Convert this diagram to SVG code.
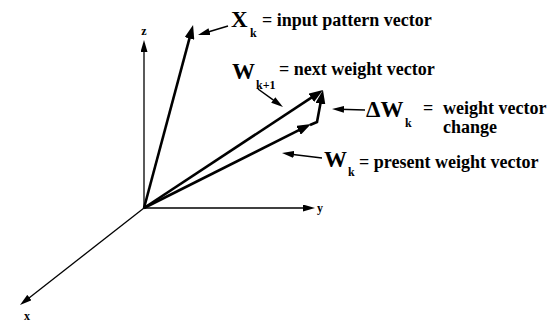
<svg xmlns="http://www.w3.org/2000/svg" width="552" height="326" viewBox="0 0 552 326">
<style>
.ax{stroke:#000;stroke-width:1.3;fill:none;marker-end:url(#thin)}
.vec{stroke:#000;stroke-width:2.6;fill:none;stroke-linejoin:miter;marker-end:url(#big)}
.ptr{stroke:#000;stroke-width:1.5;fill:none;marker-end:url(#thin)}
text{font-family:"Liberation Serif","Times New Roman",serif;font-weight:bold;fill:#000}
.axl{font-size:12px}
.big{font-size:23px}
.sub{font-size:12px}
.lab{font-size:18px}
</style>
<defs>
<marker id="big" markerUnits="userSpaceOnUse" markerWidth="14" markerHeight="10" refX="6" refY="5" orient="auto"><path d="M0,0 L14,5 L0,10 z" fill="#000"/></marker>
<marker id="thin" markerUnits="userSpaceOnUse" markerWidth="12" markerHeight="7" refX="5" refY="3.5" orient="auto"><path d="M0,0 L12,3.5 L0,7 z" fill="#000"/></marker>
</defs>
<g id="axes">
<line class="ax" x1="144" y1="208" x2="144" y2="47"/>
<line class="ax" x1="144" y1="208" x2="308" y2="208"/>
<line class="ax" x1="144" y1="208" x2="25.5" y2="300.7"/>
<text class="axl" x="144" y="35" text-anchor="middle">z</text>
<text class="axl" x="320" y="212" text-anchor="middle">y</text>
<text class="axl" x="27" y="320" text-anchor="middle">x</text>
</g>
<g id="vectors">
<line id="vec-xk" class="vec" x1="144" y1="208" x2="191" y2="32.7"/>
<line id="vec-wk1" class="vec" x1="144" y1="208" x2="316.3" y2="94.4"/>
<line id="vec-wk" class="vec" x1="144" y1="208" x2="303.9" y2="127.6"/>
<polyline id="vec-dwk" class="vec" points="310,125 317,122 321.5,97.8"/>
</g>
<g id="label-xk">
<text class="big" x="231" y="27">X</text>
<text class="sub" x="250" y="37">k</text>
<text class="lab" x="262" y="26">= input pattern vector</text>
</g>
<g id="label-wk1">
<text class="big" x="232" y="79">W</text>
<text class="sub" x="256" y="89">k+1</text>
<text class="lab" x="279" y="75">= next weight vector</text>
</g>
<g id="label-dwk">
<text class="big" x="366" y="117">ΔW</text>
<text class="sub" x="405" y="127">k</text>
<text class="lab" x="423" y="114">=</text>
<text class="lab" x="443" y="114">weight vector</text>
<text class="lab" x="443" y="133">change</text>
</g>
<g id="label-wk">
<text class="big" x="324" y="167">W</text>
<text class="sub" x="348" y="176">k</text>
<text class="lab" x="359" y="168">= present weight vector</text>
</g>
<g id="connectors">
<line class="ptr" x1="228" y1="26" x2="204.7" y2="33"/>
<line class="ptr" x1="258" y1="89" x2="277.3" y2="102.9"/>
<line class="ptr" x1="365" y1="110" x2="339" y2="109.2"/>
<line class="ptr" x1="322" y1="158" x2="288.9" y2="153.9"/>
</g>
</svg>
